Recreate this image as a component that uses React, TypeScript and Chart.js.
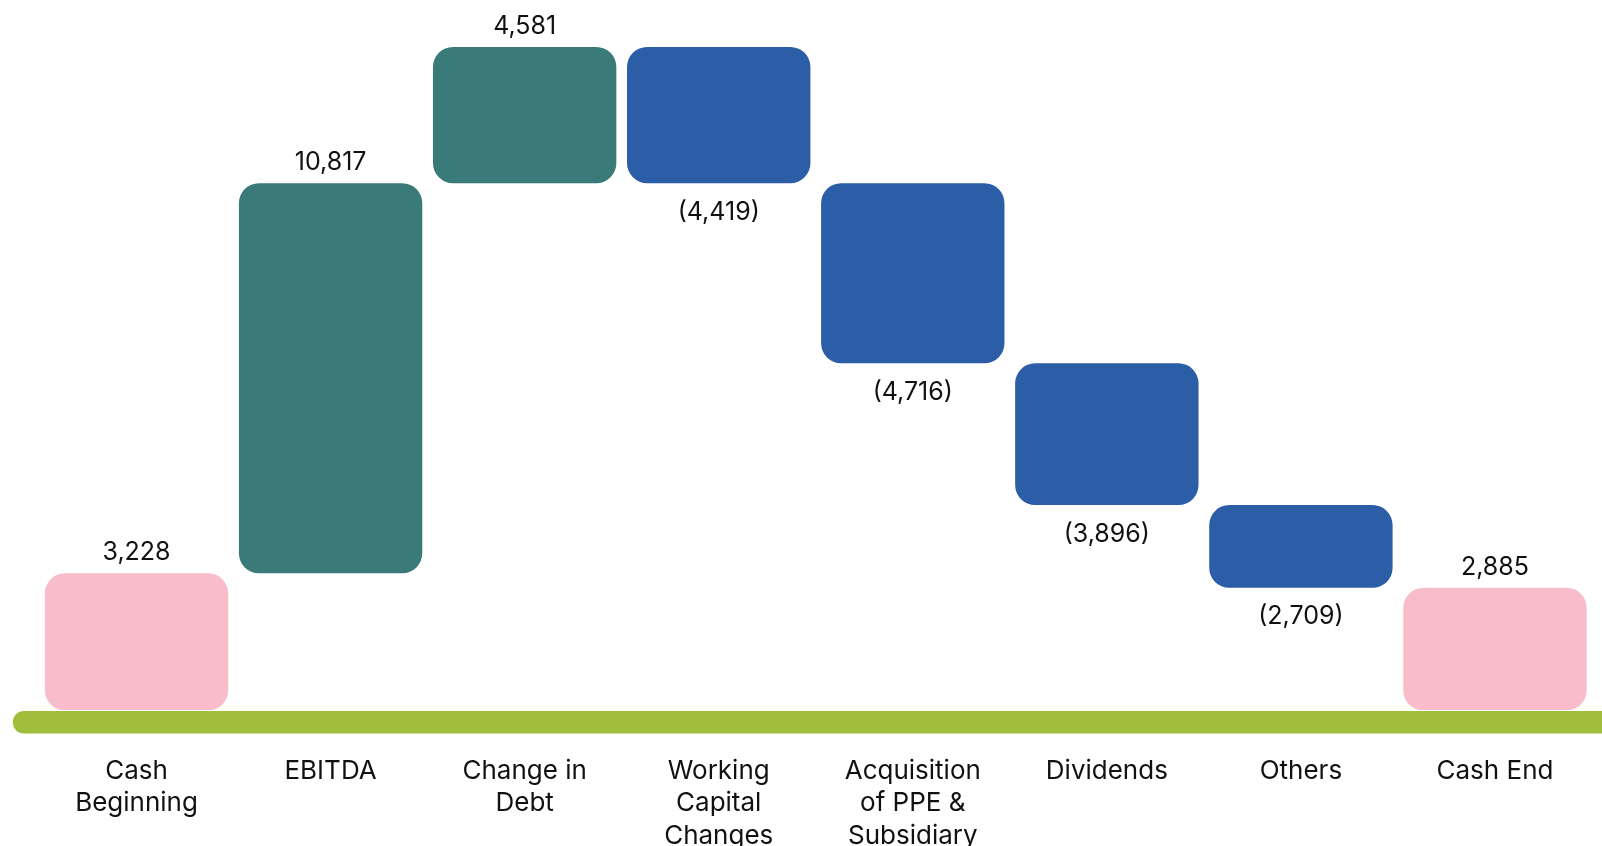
import React, { useEffect, useRef } from "react";
import { Chart, registerables } from "chart.js";

Chart.register(...registerables);

const categories: (string | string[])[] = [
  ["Cash", "Beginning"],
  "EBITDA",
  ["Change in", "Debt"],
  ["Working", "Capital", "Changes"],
  ["Acquisition", "of PPE &", "Subsidiary"],
  "Dividends",
  "Others",
  "Cash End",
];

// Displayed amounts (negative shown in parentheses)
const amounts = [3228, 10817, 4581, -4419, -4716, -3896, -2709, 2885];

// Bar extents
const barFrom = [0, 3228, 12420, 15630, 12420, 8175, 4835, 0];
const barTo = [3228, 12420, 15630, 12420, 8175, 4835, 2885, 2885];

const barColors = [
  "#F8BCCA",
  "#3A7A78",
  "#3A7A78",
  "#2C5EA8",
  "#2C5EA8",
  "#2C5EA8",
  "#2C5EA8",
  "#F8BCCA",
];

const FONT = "Inter, 'Noto Sans', sans-serif";

function fmt(v: number): string {
  const s = Math.abs(v).toLocaleString("en-US");
  return v < 0 ? `(${s})` : s;
}

const baselinePlugin = {
  id: "baselinePlugin",
  beforeDatasetsDraw(chart: any) {
    const { ctx, chartArea } = chart;
    ctx.save();
    ctx.strokeStyle = "#A0BE3C";
    ctx.lineWidth = 22.5;
    ctx.lineCap = "round";
    const y = chartArea.bottom + 12;
    ctx.beginPath();
    ctx.moveTo(chartArea.left - 15.5, y);
    ctx.lineTo(chart.width + 30, y);
    ctx.stroke();
    ctx.restore();
  },
};

const valueLabelPlugin = {
  id: "valueLabelPlugin",
  afterDatasetsDraw(chart: any) {
    const { ctx } = chart;
    const meta = chart.getDatasetMeta(0);
    ctx.save();
    ctx.font = `25px ${FONT}`;
    ctx.fillStyle = "#111111";
    ctx.textAlign = "center";
    ctx.textBaseline = "middle";
    meta.data.forEach((el: any, i: number) => {
      const top = Math.min(el.y, el.base);
      const bottom = Math.max(el.y, el.base);
      const v = amounts[i];
      const y = v >= 0 ? top - 20.5 : bottom + 29;
      ctx.fillText(fmt(v), el.x, y);
    });
    ctx.restore();
  },
};

export default function App() {
  const ref = useRef<HTMLCanvasElement | null>(null);

  useEffect(() => {
    document.body.style.margin = "0";
    document.body.style.overflow = "hidden";
    if (!ref.current) return;
    const chart = new Chart(ref.current, {
      type: "bar",
      data: {
        labels: categories,
        datasets: [
          {
            data: barFrom.map((f, i) => [f, barTo[i]]),
            backgroundColor: barColors,
            borderRadius: 20,
            borderSkipped: false,
            barPercentage: 0.945,
            categoryPercentage: 1,
          },
        ],
      },
      options: {
        responsive: false,
        animation: false,
        layout: { padding: { left: 39.5, right: 10, top: 10, bottom: 3 } },
        plugins: {
          legend: { display: false },
          tooltip: { enabled: false },
        },
        scales: {
          x: {
            grid: { display: false, drawTicks: false },
            border: { display: false },
            ticks: {
              padding: 45,
              color: "#111111",
              font: { family: FONT, size: 26, lineHeight: 1.24 },
              maxRotation: 0,
              autoSkip: false,
            },
          },
          y: {
            display: false,
            min: 0,
            max: 16500,
          },
        },
      },
      plugins: [baselinePlugin, valueLabelPlugin],
    });
    return () => chart.destroy();
  }, []);

  return (
    <div style={{ width: 1602, height: 846, overflow: "hidden", background: "#fff" }}>
      <canvas ref={ref} width={1602} height={900} style={{ display: "block" }} />
    </div>
  );
}
